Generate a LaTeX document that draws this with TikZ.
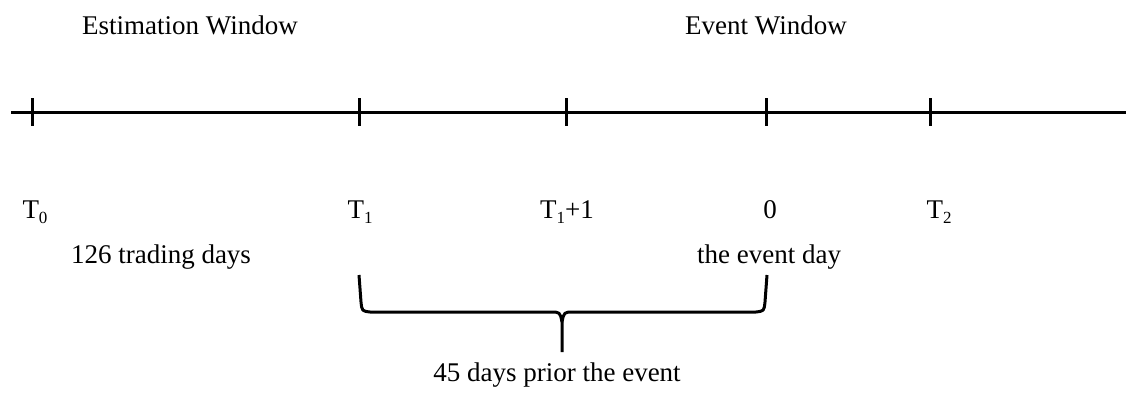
\documentclass[tikz,border=0pt]{standalone}
\usepackage{fontspec}
\setmainfont{Liberation Serif}
\newcommand\mysub[1]{\raisebox{-0.45ex}{\fontsize{17}{20}\selectfont #1}}
\begin{document}
\begin{tikzpicture}[x=1pt,y=-1pt,
  lbl/.style={anchor=base,inner sep=0pt,font=\fontsize{27}{32}\selectfont},
  axis/.style={line width=3pt},
  tick/.style={line width=3pt},
  brace/.style={line width=3pt,line join=round}]
\useasboundingbox (0,0) rectangle (1126,392);
% axis
\coordinate (L) at (11,112);
\coordinate (R) at (1126,112);
\draw[axis] (L) -- (R);
\foreach \n/\x in {t0/32,t1/359,t1p/566,ev/766,t2/930}{
  \coordinate (\n) at (\x,112);
  \draw[tick] (\x,98) -- (\x,126);
}
% headings
\node[lbl] (estw) at (190,34) {Estimation Window};
\node[lbl] (evw) at (766,34) {Event Window};
% tick labels
\node[lbl] (lt0) at (35,218) {T\mysub{0}};
\node[lbl] (lt1) at (360,218) {T\mysub{1}};
\node[lbl] (lt1p) at (567,218) {T\mysub{1}+1};
\node[lbl] (lev) at (770,218) {0};
\node[lbl] (lt2) at (939,218) {T\mysub{2}};
% descriptions
\node[lbl] (d126) at (161,263) {126 trading days};
\node[lbl] (devd) at (769,263) {the event day};
\node[lbl] (d45) at (557,381) {45 days prior the event};
% brace
\coordinate (bl) at (359,275);
\coordinate (br) at (767,275);
\coordinate (bm) at (562,352);
\draw[brace] (bl) -- (361,302) .. controls (362,311) .. (370,312) -- (550,312)
  .. controls (560,312) .. (562,322) -- (bm);
\draw[brace] (br) -- (765,302) .. controls (764,311) .. (756,312) -- (574,312)
  .. controls (564,312) .. (562,322);
\end{tikzpicture}
\end{document}
